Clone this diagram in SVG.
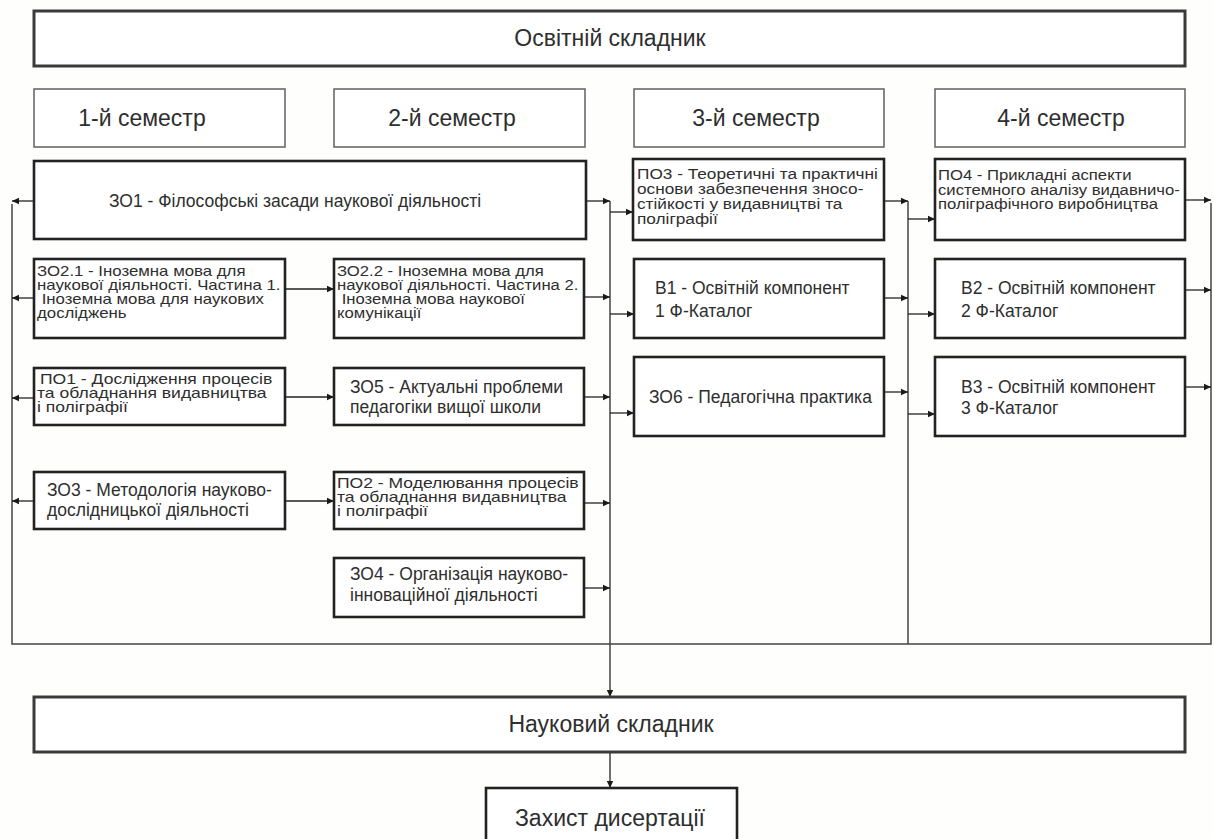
<svg xmlns="http://www.w3.org/2000/svg" width="1214" height="839" viewBox="0 0 1214 839">
<defs>
<style>
text{font-family:"Liberation Sans","Noto Sans",sans-serif;fill:#2e2e2e}
.big{font-size:23px}
.s{font-size:14.5px}
.m{font-size:17.5px}
.hdr{fill:#fff;stroke:#3a3a3a;stroke-width:3}
.sem{fill:#fff;stroke:#6a6a6a;stroke-width:1.6}
.box{fill:#fff;stroke:#222;stroke-width:2.6}
.ln{fill:none;stroke:#222;stroke-width:1.3}
.fr{fill:none;stroke:#444;stroke-width:1.5}
</style>
<marker id="ah" markerWidth="8" markerHeight="8" refX="7" refY="4" orient="auto" markerUnits="userSpaceOnUse">
<path d="M0,0.8 L7,4 L0,7.2 Z" fill="#1a1a1a"/>
</marker>
</defs>
<rect width="1214" height="839" fill="#fefefc"/>

<g id="connectors">
<path class="fr" d="M12,204 V644 H1211 V203"/>
<path class="fr" d="M610,201 V688"/>
<path class="fr" d="M908,201 V644"/>
<g class="ln" marker-end="url(#ah)">
<path d="M34,201 H12"/>
<path d="M34,298 H12"/>
<path d="M34,398 H12"/>
<path d="M34,501 H12"/>
<path d="M285,289 H334"/>
<path d="M285,397 H334"/>
<path d="M285,501 H334"/>
<path d="M586,201 H610"/>
<path d="M584,297 H610"/>
<path d="M584,397 H610"/>
<path d="M584,503 H610"/>
<path d="M584,588 H610"/>
<path d="M610,212 H633"/>
<path d="M610,314 H634"/>
<path d="M610,413 H634"/>
<path d="M884,201 H908"/>
<path d="M884,298 H908"/>
<path d="M884,392 H908"/>
<path d="M908,219 H935"/>
<path d="M908,314 H935"/>
<path d="M908,414 H935"/>
<path d="M1185,200 H1211"/>
<path d="M1185,290 H1211"/>
<path d="M1185,387 H1211"/>
<path d="M610,688 V697"/>
<path d="M610,752 V788"/>
</g>
</g>

<g id="osvitnii">
<rect class="hdr" x="34" y="11" width="1151" height="55"/>
<text class="big" x="610" y="46" text-anchor="middle">Освітній складник</text>
</g>

<g id="sem1"><rect class="sem" x="34" y="89" width="251" height="58"/><text class="big" x="142" y="126" text-anchor="middle">1-й семестр</text></g>
<g id="sem2"><rect class="sem" x="334" y="89" width="251" height="58"/><text class="big" x="452" y="126" text-anchor="middle">2-й семестр</text></g>
<g id="sem3"><rect class="sem" x="634" y="89" width="250" height="58"/><text class="big" x="756" y="126" text-anchor="middle">3-й семестр</text></g>
<g id="sem4"><rect class="sem" x="935" y="89" width="250" height="58"/><text class="big" x="1061" y="126" text-anchor="middle">4-й семестр</text></g>

<g id="zo1"><rect class="box" x="34" y="161" width="552" height="78"/><text class="m" x="295" y="207" text-anchor="middle">ЗО1 - Філософські засади наукової діяльності</text></g>

<g id="po3"><rect class="box" x="633" y="159" width="251" height="81"/>
<text class="s" transform="translate(637,0) scale(1.19,1)"><tspan x="0" y="179">ПО3 - Теоретичні та практичні</tspan><tspan x="0" y="194">основи забезпечення зносо-</tspan><tspan x="0" y="209">стійкості у видавництві та</tspan><tspan x="0" y="224">поліграфії</tspan></text></g>

<g id="po4"><rect class="box" x="935" y="159" width="250" height="81"/>
<text class="s" transform="translate(938,0) scale(1.15,1)"><tspan x="0" y="180">ПО4 - Прикладні аспекти</tspan><tspan x="0" y="195">системного аналізу видавничо-</tspan><tspan x="0" y="209">поліграфічного виробництва</tspan></text></g>

<g id="zo21"><rect class="box" x="34" y="259" width="251" height="79"/>
<text class="s" transform="translate(37,0) scale(1.16,1)"><tspan x="0" y="276">ЗО2.1 - Іноземна мова для</tspan><tspan x="0" y="290">наукової діяльності. Частина 1.</tspan><tspan x="0" y="304"> Іноземна мова для наукових</tspan><tspan x="0" y="318">досліджень</tspan></text></g>

<g id="zo22"><rect class="box" x="334" y="259" width="250" height="79"/>
<text class="s" transform="translate(337,0) scale(1.15,1)"><tspan x="0" y="276">ЗО2.2 - Іноземна мова для</tspan><tspan x="0" y="290">наукової діяльності. Частина 2.</tspan><tspan x="0" y="304"> Іноземна мова наукової</tspan><tspan x="0" y="318">комунікації</tspan></text></g>

<g id="v1"><rect class="box" x="634" y="259" width="250" height="79"/>
<text class="m"><tspan x="655" y="294">В1 - Освітній компонент</tspan><tspan x="655" y="317">1 Ф-Каталог</tspan></text></g>

<g id="v2"><rect class="box" x="935" y="259" width="250" height="79"/>
<text class="m"><tspan x="961" y="294">В2 - Освітній компонент</tspan><tspan x="961" y="317">2 Ф-Каталог</tspan></text></g>

<g id="po1"><rect class="box" x="34" y="368" width="251" height="57"/>
<text class="s" transform="translate(37,0) scale(1.21,1)"><tspan x="2.5" y="384">ПО1 - Дослідження процесів</tspan><tspan x="0" y="398">та обладнання видавництва</tspan><tspan x="0" y="412">і поліграфії</tspan></text></g>

<g id="zo5"><rect class="box" x="334" y="368" width="250" height="57"/>
<text class="m"><tspan x="350" y="393">ЗО5 - Актуальні проблеми</tspan><tspan x="350" y="413">педагогіки вищої школи</tspan></text></g>

<g id="zo6"><rect class="box" x="634" y="357" width="250" height="79"/>
<text class="m" x="649" y="403">ЗО6 - Педагогічна практика</text></g>

<g id="v3"><rect class="box" x="935" y="357" width="250" height="79"/>
<text class="m"><tspan x="961" y="393">В3 - Освітній компонент</tspan><tspan x="961" y="414">3 Ф-Каталог</tspan></text></g>

<g id="zo3"><rect class="box" x="34" y="472" width="251" height="57"/>
<text class="m"><tspan x="47" y="496">ЗО3 - Методологія науково-</tspan><tspan x="47" y="516">дослідницької діяльності</tspan></text></g>

<g id="po2"><rect class="box" x="334" y="472" width="250" height="57"/>
<text class="s" transform="translate(337,0) scale(1.21,1)"><tspan x="0" y="488">ПО2 - Моделювання процесів</tspan><tspan x="0" y="502">та обладнання видавництва</tspan><tspan x="0" y="516">і поліграфії</tspan></text></g>

<g id="zo4"><rect class="box" x="334" y="558" width="250" height="59"/>
<text class="m"><tspan x="350" y="580">ЗО4 - Організація науково-</tspan><tspan x="350" y="601">інноваційної діяльності</tspan></text></g>

<g id="naukovyi"><rect class="hdr" x="34" y="697" width="1151" height="55"/>
<text class="big" x="611" y="732" text-anchor="middle">Науковий складник</text></g>

<g id="zakhyst"><rect class="box" x="486" y="788" width="251" height="60"/>
<text class="big" x="610" y="826" text-anchor="middle">Захист дисертації</text></g>
</svg>
